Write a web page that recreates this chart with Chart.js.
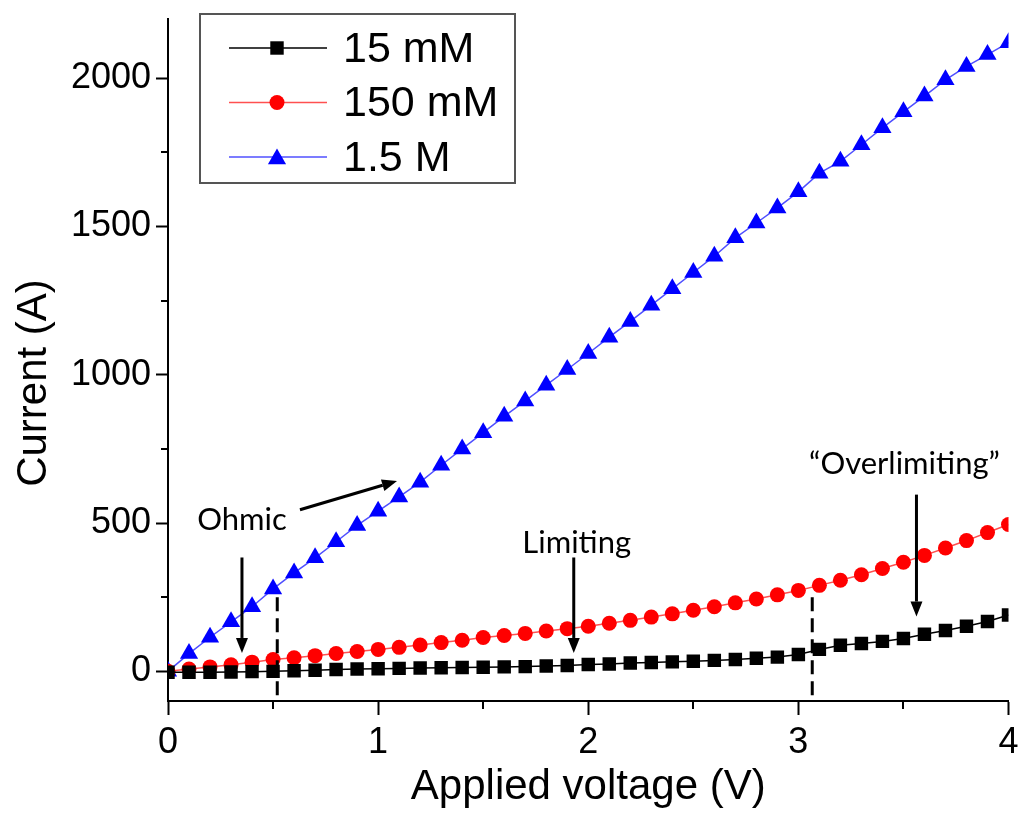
<!DOCTYPE html>
<html>
<head>
<meta charset="utf-8">
<script src="https://cdn.jsdelivr.net/npm/chart.js@4.4.1/dist/chart.umd.min.js"></script>
<style>
    html, body { margin: 0; padding: 0; background: #fff; }
    #wrap { width: 1019px; height: 827px; position: relative; }
</style>
</head>
<body>
<div id="wrap"><canvas id="graficoCorrente"></canvas></div>
<script>
const voltage = [0, 0.1, 0.2, 0.3, 0.4, 0.5, 0.6, 0.7, 0.8, 0.9, 1.0, 1.1, 1.2, 1.3, 1.4, 1.5, 1.6, 1.7, 1.8, 1.9, 2.0,
    2.1, 2.2, 2.3, 2.4, 2.5, 2.6, 2.7, 2.8, 2.9, 3.0, 3.1, 3.2, 3.3, 3.4, 3.5, 3.6, 3.7, 3.8, 3.9, 4.0];
const current15mM = [-3, -3, -3, -2, -1, 0, 2, 4, 6, 8, 9, 10, 11, 12, 13, 14, 15, 16, 18, 20, 23,
    25, 28, 30, 32, 34, 37, 40, 44, 48, 57, 74, 88, 94, 101, 111, 125, 138, 152, 168, 190];
const current150mM = [0, 8, 15, 22, 31, 40, 46, 53, 60, 67, 74, 81, 89, 97, 105, 114, 121, 128, 136, 144, 152,
    162, 172, 183, 194, 206, 218, 231, 244, 258, 273, 290, 307, 326, 347, 368, 391, 416, 441, 468, 495];
const current1_5M = [0, 60, 115, 167, 218, 278, 332, 383, 437, 492, 540, 588, 638, 695, 750, 805, 860, 912, 965, 1018, 1072,
    1127, 1180, 1235, 1290, 1345, 1400, 1462, 1512, 1563, 1617, 1680, 1720, 1776, 1833, 1887, 1940, 1995, 2040, 2080, 2120];
const seriesLabels = ["15 mM", "150 mM", "1.5 M"];
const xTicks = [0, 1, 2, 3, 4];
const yTicks = [0, 500, 1000, 1500, 2000];
const xMinorTicks = [0.5, 1.5, 2.5, 3.5];
const yMinorTicks = [250, 750, 1250, 1750];
const regionLabels = ["Ohmic", "Limiting", "\u201COverlimiting\u201D"];

const cores = ["#000000", "#ff0000", "#0000ff"];
const coresLinha = ["#000000", "#ff5050", "#5050ff"];
const estilos = ["rect", "circle", "triangle"];
const raios = [9.5, 7.5, 10.5];

function pontos(valores) {
    return voltage.map((v, i) => ({ x: v, y: valores[i] }));
}

// posicoes das anotacoes em coordenadas de dados
const limitesDashed = [0.52, 3.066];
const topoDashed = 250;
const textos = [
    { t: regionLabels[0], x: 0.352, y: 512 },
    { t: regionLabels[1], x: 1.945, y: 434 },
    { t: regionLabels[2], x: 3.505, y: 700 }
];
const setas = [
    { x1: 0.352, y1: 384, x2: 0.352, y2: 62 },
    { x1: 0.628, y1: 545, x2: 1.09, y2: 642 },
    { x1: 1.931, y1: 384, x2: 1.931, y2: 62 },
    { x1: 3.562, y1: 596, x2: 3.562, y2: 185 }
];

function desenharMarcador(ctx, estilo, cx, cy, r, cor) {
    ctx.fillStyle = cor;
    ctx.beginPath();
    if (estilo === "rect") {
        const s = r * Math.SQRT1_2;
        ctx.rect(cx - s, cy - s, 2 * s, 2 * s);
    } else if (estilo === "circle") {
        ctx.arc(cx, cy, r, 0, Math.PI * 2);
    } else {
        ctx.moveTo(cx, cy - r);
        ctx.lineTo(cx + r * Math.sin(Math.PI * 2 / 3), cy + r / 2);
        ctx.lineTo(cx - r * Math.sin(Math.PI * 2 / 3), cy + r / 2);
        ctx.closePath();
    }
    ctx.fill();
}

const anotacoes = {
    id: "anotacoes",
    afterDatasetsDraw(chart) {
        const { ctx, scales: { x, y } } = chart;
        ctx.save();

        // minor ticks
        ctx.strokeStyle = "#000";
        ctx.lineWidth = 2;
        ctx.setLineDash([]);
        xMinorTicks.forEach(v => {
            const px = Math.round(x.getPixelForValue(v));
            ctx.beginPath();
            ctx.moveTo(px, y.bottom);
            ctx.lineTo(px, y.bottom + 8);
            ctx.stroke();
        });
        yMinorTicks.forEach(v => {
            const py = Math.round(y.getPixelForValue(v));
            ctx.beginPath();
            ctx.moveTo(x.left, py);
            ctx.lineTo(x.left - 7, py);
            ctx.stroke();
        });

        // linhas tracejadas
        ctx.lineWidth = 3;
        ctx.setLineDash([14, 7]);
        limitesDashed.forEach(v => {
            const px = x.getPixelForValue(v);
            ctx.beginPath();
            ctx.moveTo(px, y.getPixelForValue(topoDashed));
            ctx.lineTo(px, y.bottom);
            ctx.stroke();
        });
        ctx.setLineDash([]);

        // setas
        setas.forEach(s => {
            const x1 = x.getPixelForValue(s.x1), y1 = y.getPixelForValue(s.y1);
            const x2 = x.getPixelForValue(s.x2), y2 = y.getPixelForValue(s.y2);
            const ang = Math.atan2(y2 - y1, x2 - x1);
            const comp = 15, larg = 6;
            const bx = x2 - comp * Math.cos(ang), by = y2 - comp * Math.sin(ang);
            ctx.lineWidth = 3;
            ctx.strokeStyle = "#000";
            ctx.beginPath();
            ctx.moveTo(x1, y1);
            ctx.lineTo(bx, by);
            ctx.stroke();
            ctx.fillStyle = "#000";
            ctx.beginPath();
            ctx.moveTo(x2, y2);
            ctx.lineTo(bx + larg * Math.sin(ang), by - larg * Math.cos(ang));
            ctx.lineTo(bx - larg * Math.sin(ang), by + larg * Math.cos(ang));
            ctx.closePath();
            ctx.fill();
        });

        // textos
        ctx.font = "31px Lato, 'Open Sans', sans-serif";
        ctx.fillStyle = "#000";
        ctx.textAlign = "center";
        ctx.textBaseline = "middle";
        textos.forEach(t => {
            ctx.fillText(t.t, x.getPixelForValue(t.x), y.getPixelForValue(t.y));
        });

        // titulo do eixo y (um pouco abaixo do centro, como no original)
        ctx.font = "42px 'Liberation Sans', Arial, sans-serif";
        ctx.translate(34, 383);
        ctx.rotate(-Math.PI / 2);
        ctx.fillText(y.options.title.text, 0, 0);
        ctx.restore();
    },
    afterDraw(chart) {
        // legenda
        const ctx = chart.ctx;
        ctx.save();
        ctx.strokeStyle = "#555";
        ctx.lineWidth = 2;
        ctx.strokeRect(200, 14, 315, 169);
        ctx.font = "43px 'Liberation Sans', Arial, sans-serif";
        ctx.textAlign = "left";
        ctx.textBaseline = "middle";
        chart.data.datasets.forEach((ds, i) => {
            const cy = 48 + i * 54.5;
            ctx.strokeStyle = coresLinha[i];
            ctx.lineWidth = 1.5;
            ctx.beginPath();
            ctx.moveTo(229, cy);
            ctx.lineTo(327, cy);
            ctx.stroke();
            desenharMarcador(ctx, estilos[i], 277, cy + (estilos[i] === "triangle" ? 2 : 0), raios[i], cores[i]);
            ctx.fillStyle = "#000";
            ctx.fillText(ds.label, 343, cy + 2);
        });
        ctx.restore();
    }
};

const fonteTick = { family: "'Liberation Sans', Arial, sans-serif", size: 36 };
const fonteTitulo = { family: "'Liberation Sans', Arial, sans-serif", size: 42 };

const grafico = new Chart(document.getElementById("graficoCorrente"), {
    type: "line",
    data: {
        datasets: [current15mM, current150mM, current1_5M].map((serie, i) => ({
            label: seriesLabels[i],
            data: pontos(serie),
            borderColor: coresLinha[i],
            borderWidth: 1.5,
            backgroundColor: cores[i],
            pointBackgroundColor: cores[i],
            pointBorderWidth: 0,
            pointStyle: estilos[i],
            pointRadius: raios[i],
            pointHoverRadius: raios[i],
            tension: 0,
            clip: 0
        }))
    },
    options: {
        responsive: true,
        maintainAspectRatio: false,
        animation: false,
        events: [],
        layout: { padding: { left: 0, right: 10, top: 19, bottom: 0 } },
        plugins: {
            legend: { display: false },
            tooltip: { enabled: false }
        },
        scales: {
            x: {
                type: "linear",
                min: 0,
                max: 4,
                afterBuildTicks(scale) { scale.ticks = xTicks.map(v => ({ value: v })); },
                ticks: { color: "#000", font: fonteTick, padding: 6, callback: v => String(v) },
                grid: { drawOnChartArea: false, tickLength: 14, tickWidth: 2, tickColor: "#000" },
                border: { display: true, color: "#000", width: 2 },
                title: { display: true, text: "Applied voltage (V)", color: "#000", font: fonteTitulo, padding: { top: 0, bottom: 14 } },
                afterFit(scale) {
                    scale.height = 126;
                    scale.paddingLeft = 0;
                    scale.paddingRight = 0;
                }
            },
            y: {
                type: "linear",
                min: -100,
                max: 2200,
                afterBuildTicks(scale) { scale.ticks = yTicks.map(v => ({ value: v })); },
                ticks: { color: "#000", font: fonteTick, padding: 5, callback: v => String(v) },
                grid: { drawOnChartArea: false, tickLength: 12, tickWidth: 2, tickColor: "#000" },
                border: { display: true, color: "#000", width: 2 },
                // titulo desenhado pelo plugin para acertar a posicao vertical
                title: { display: false, text: "Current (A)" },
                afterFit(scale) {
                    scale.width = 168;
                    scale.paddingTop = 0;
                    scale.paddingBottom = 0;
                }
            }
        }
    },
    plugins: [anotacoes]
});
</script>
</body>
</html>
